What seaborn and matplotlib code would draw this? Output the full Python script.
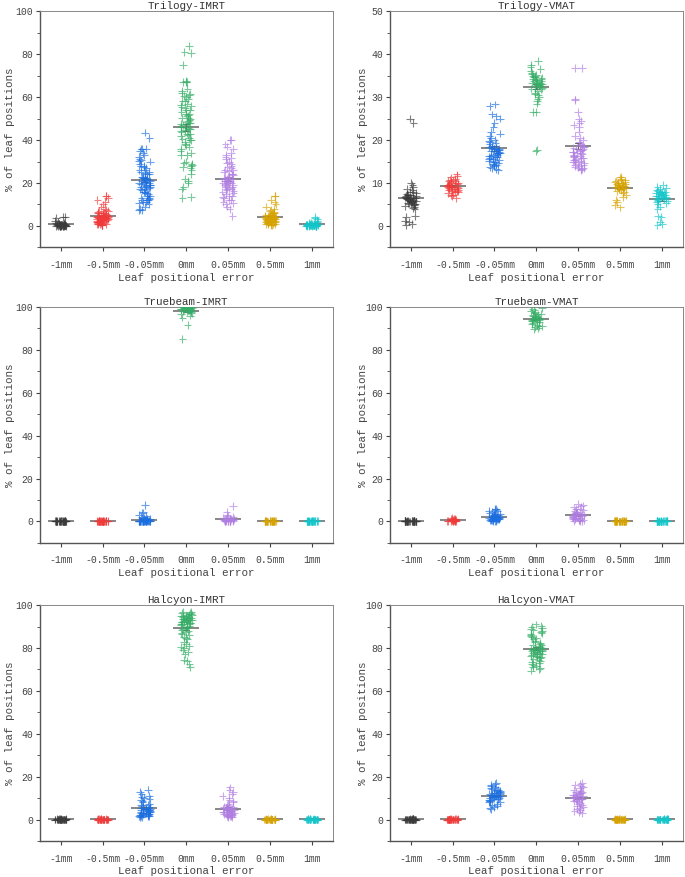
import numpy as np
import pandas as pd
import seaborn as sns
import matplotlib.pyplot as plt
from matplotlib.ticker import MultipleLocator

# categories and colours
errors = ["-1mm", "-0.5mm", "-0.05mm", "0mm", "0.05mm", "0.5mm", "1mm"]
colors = ["#3a3a3a", "#f03a3a", "#1a6ee0", "#35ad66", "#b07ee2", "#d6a200", "#12c6ca"]

zeros = [0, 0, 0.1, 0, 0.2, 0, 0.1, 0, 0, 0.1, 0.2, 0, 0.1, 0, 0, 0.1, 0, 0, 0.2, 0.1,
         0, 0.1, 0, 0.2, 0, 0.1, 0, 0, 0.1, 0.2]

# % of leaf positions, one list per positional error
trilogy_imrt = [
    [0, 0, 0, 0, 0.1, 0.2, 0.3, 0.5, 0.2, 0.4, 0.6, 0.8, 1.0, 1.2, 0.1, 0, 0.3, 0.5, 0.7, 0.9,
     1.5, 2.0, 0.2, 0.1, 0, 0.4, 0.6, 0.3, 4.2, 4.0, 3.8, 2.5, 0, 0.1, 0.2, 0.3, 0.5, 0.8, 1.1, 0.2,
     0, 0.1, 0, 0.2, 0.1, 0, 0.3],
    [0.5, 1, 1.5, 2, 2.5, 3, 3.5, 4, 4.5, 5, 5.5, 6, 6.5, 7, 7.5, 8, 9, 10, 11, 12, 14, 14, 13,
     3, 4, 2, 1, 0.2, 3.8, 4.2, 4.8, 5.2, 2.8, 3.2, 1.8, 2.2, 6.2, 5.8, 0.8, 4.4, 3.6, 2.6, 4, 5,
     3, 2, 1, 6, 7, 0.3, 3.4, 2.4, 1.4, 4.6, 1.2, 2.1, 3.1, 4.1, 0.9, 2.9, 3.9, 1.6, 4.3, 5.1],
    [7.5, 7.5, 8, 9, 10, 11, 12, 12.5, 13, 14, 15, 15.5, 16, 17, 17.5, 18, 18.5, 19, 19.5, 20,
     20.5, 21, 21.5, 22, 22.5, 23, 24, 25, 26, 27, 28, 29, 30, 30.5, 31, 32, 33, 34, 35, 36, 36,
     36, 41, 43.5, 12, 14, 16, 18, 20, 22, 24, 26, 28, 19, 21, 23, 25, 13, 11, 17, 15.2, 18.2,
     20.2, 22.2, 24.5, 10.5, 16.5, 19.2, 21.2, 27.5, 30.2, 12.2],
    [13, 13.5, 17, 18, 20, 21, 22, 24, 26, 27, 28, 28.5, 29, 30, 33, 33, 34, 36, 37, 38, 40,
     40.5, 41, 42, 43, 44, 44.5, 45, 45.5, 46, 47, 47.5, 48, 49, 50, 50.5, 51, 52, 53, 54, 55,
     55.5, 56, 57, 58, 59, 60, 60.5, 61, 62, 63, 64, 67, 67, 67.5, 75, 80.5, 81, 84, 45, 43, 46,
     48, 39, 35, 44.2, 46.2, 48.2, 50.2, 52.2, 54.2, 56.2, 58.2, 42.2, 40.2, 37.5, 29.5, 27.5,
     61.5, 67.2, 51.5, 49.5],
    [4.5, 8, 9, 10, 11, 12, 13, 14, 15, 16, 16.5, 17, 18, 18.5, 19, 19.5, 20, 20.5, 21, 21.5,
     22, 22.5, 23, 24, 25, 26, 27, 28, 29, 30, 31, 32, 33, 34, 36, 37, 38, 40, 40, 22, 20, 18,
     24, 26, 14, 12, 19, 21, 23, 17, 13.5, 15.5, 17.5, 19.8, 21.8, 23.8, 25.5, 27.5, 29.5, 31.5,
     10.5, 20.8, 22.8, 16.2],
    [0.3, 0.8, 1.2, 1.8, 2.2, 2.8, 3.2, 3.6, 4, 4.4, 4.8, 5.2, 5.6, 6, 6.5, 7, 7.5, 8, 9, 10,
     11, 12, 14, 14, 3, 4, 5, 2, 1, 3.5, 4.5, 2.5, 6.2, 0.5, 3.8, 4.2, 2, 5, 1.5, 4, 3.3, 2.3,
     1, 1.5, 2, 2.5, 3, 3.5, 0.8, 1.8, 2.7, 3.1, 4.1, 4.9, 0.6, 2.1],
    [0, 0.1, 0.2, 0.3, 0.4, 0.5, 0.6, 0.8, 1.0, 1.2, 1.5, 2, 2.5, 3, 3.5, 4, 0, 0.2, 0.4, 0.1,
     0.3, 0.6, 0.9, 0, 0.2, 1.1, 0.5, 0.7, 0.1, 0.3, 0, 0.1, 0.2, 0, 0.1, 0.3, 0, 0.2, 0.4, 0.1,
     0, 0.2],
]

trilogy_vmat = [
    [0.2, 0.5, 1, 1.2, 2, 2.2, 4, 4.2, 4.5, 5, 5.2, 5.5, 5.8, 6, 6, 6.2, 6.4, 6.6, 6.8, 7, 7.2,
     7.5, 7.8, 8, 8.3, 8.6, 9, 9.5, 10, 5.6, 6.5, 7.3, 5.3, 6.9, 7.7, 24, 25, 4.8, 6.1, 6.7,
     5.4, 5.9, 6.3, 5.1, 6.4, 5.7, 4.6, 6.2],
    [6.5, 7, 7.3, 7.6, 8, 8.2, 8.4, 8.6, 8.8, 9, 9, 9.2, 9.4, 9.6, 9.8, 10, 10.2, 10.5, 10.8,
     11, 11.3, 11.6, 12, 8.5, 9.3, 9.7, 8.9, 7.8, 10.4, 9.1, 8.1, 10.1, 8.3, 9.5, 7.1, 10.7,
     9.9, 8.7],
    [13, 13.3, 13.7, 14, 14.3, 14.7, 15, 15.3, 15.7, 16, 16.3, 16.6, 17, 17, 17.3, 17.6, 18, 18,
     18.3, 18.6, 19, 19.3, 19.6, 20, 20.5, 21, 21.5, 22, 23, 24, 25, 25.5, 26, 28, 28.3, 16.8,
     17.4, 18.2, 15.5, 14.5, 19.8, 16.1, 13.5, 14.1, 15.1, 16.2, 16.9, 17.1, 17.7, 18.1, 15.9,
     14.9, 16.5, 17.9],
    [17.5, 17.8, 26.5, 26.5, 28.5, 29, 29.5, 30, 30.5, 31, 31.5, 32, 32.3, 32.6, 33, 33, 33.3,
     33.6, 34, 34.3, 34.6, 35, 35.3, 35.6, 36, 36.5, 37, 37.5, 38.5, 33.8, 32.8, 31.8, 34.8, 30.8,
     32.5, 33.2, 33.7, 34.2, 34.5, 33.4, 32.9, 35.2, 33.9, 32.2, 34.9, 33.1],
    [13, 13.3, 13.6, 14, 14.3, 14.6, 15, 15.3, 15.6, 16, 16.3, 16.6, 17, 17.3, 17.6, 18, 18.3,
     18.6, 19, 19.5, 20, 20.5, 21, 22, 23, 23.5, 24, 24.5, 25, 26.5, 29.3, 29.5, 36.8, 36.8,
     15.8, 16.8, 17.8, 14.8, 13.5, 14.2, 15.2, 16.2, 17.2, 18.2, 13.8, 14.9, 15.9, 16.9, 17.9,
     18.9, 13.2, 14.4, 16.4, 17.5, 18.5, 15.4],
    [4.3, 4.8, 5.5, 6, 6.8, 7.2, 7.6, 8, 8.2, 8.4, 8.6, 8.8, 9, 9.2, 9.4, 9.6, 9.8, 10, 10.2,
     10.4, 10.6, 10.8, 11, 11.3, 11.5, 9.1, 8.9, 9.3, 8.7, 10.1, 9.5, 9.7, 10.3, 9.9, 8.9, 9.4],
    [0.2, 0.5, 1, 2, 2.2, 4, 4.5, 5, 5.3, 5.6, 5.9, 6.2, 6.5, 6.8, 7, 7.2, 7.5, 7.8, 8, 8.3,
     8.6, 9, 9.5, 6, 6.4, 7.3, 5.8, 6.9, 7.6, 8.8, 6.6, 7.1, 7.4, 6.3, 6.7, 7.9, 8.1, 7.7],
]

truebeam_imrt = [
    zeros,
    zeros,
    [0, 0, 0.1, 0.2, 0.3, 0.5, 0.1, 0, 0.2, 0.4, 0.6, 0.8, 1, 1.2, 1.5, 2, 2.5, 3, 4, 4.2, 7.8,
     0, 0.1, 0.3, 0.2, 0.5, 0.7, 0, 0.1, 0.4, 0, 0.1, 0, 0.2, 0.1, 0, 0.3, 0.1, 0, 0.2],
    [85, 91.5, 95, 96, 96.5, 97, 97.5, 98, 98, 98.5, 98.5, 99, 99, 99, 99.3, 99.5, 99.5, 99.7,
     100, 100, 99.8, 99.6, 98.8, 99.2, 97.8, 99.9, 100, 99.4, 98.6, 99.1, 99.5, 99.8, 100, 99.2,
     98.9, 99.6],
    [0, 0.1, 0.2, 0.3, 0.5, 0.7, 1, 1.2, 1.5, 2, 2.5, 3, 4.5, 7.2, 0, 0.2, 0.4, 0.6, 0.8, 1.1,
     0.3, 0.1, 0.5, 1.4, 0.9, 0, 0.2, 0.7],
    zeros,
    zeros,
]

truebeam_vmat = [
    zeros,
    [0, 0.2, 0.4, 0.6, 0.8, 1, 1.2, 1.5, 0.1, 0.3, 0.5, 0.7, 0.9, 0, 0.2, 0.4, 1.1, 0.6, 0.3, 0],
    [0, 0.2, 0.5, 0.8, 1, 1.2, 1.5, 1.8, 2, 2.2, 2.5, 2.8, 3, 3.3, 3.6, 4, 4.5, 5, 5.5, 6, 0.3,
     0.7, 1.1, 1.6, 2.1, 2.6, 3.1, 1.4, 0.9, 2.4, 4.8, 5.8, 0.4, 1.3, 0.6, 1.9],
    [89.5, 90, 90.5, 91, 91.5, 92, 92.5, 93, 93.5, 94, 94, 94.5, 94.5, 95, 95, 95.5, 96, 96.5,
     97, 97.5, 98, 98.5, 99, 99.5, 92.8, 93.8, 95.8, 96.8, 94.2, 91.2, 93.3, 94.8, 95.3, 96.2],
    [0, 0.3, 0.6, 1, 1.3, 1.6, 2, 2.3, 2.6, 3, 3.3, 3.6, 4, 4.5, 5, 5.5, 6, 6.5, 7, 7.5, 8, 0.5,
     1.5, 2.5, 0.8, 1.8, 2.8, 3.8, 0.2, 1.1, 3.1, 2.1, 4.2, 5.8],
    zeros,
    zeros,
]

halcyon_imrt = [
    zeros,
    zeros,
    [1, 1.3, 1.6, 2, 2.3, 2.6, 3, 3.3, 3.6, 4, 4.3, 4.6, 5, 5.3, 5.6, 6, 6.5, 7, 7.5, 8, 8.5, 9,
     9.5, 10, 10.5, 11, 12, 13, 14, 2.8, 3.8, 4.8, 1.8, 2.2, 3.2, 6.8, 4.2, 5.2, 1.5, 2.4, 3.4,
     4.4, 1.7, 2.7, 3.7, 4.7, 5.1, 3.1],
    [71, 72.5, 74, 74.5, 77, 78, 79, 80, 80.5, 81, 82, 83, 84, 84.5, 85, 86, 86.5, 87, 87.5, 88,
     88.5, 89, 89.5, 90, 90.5, 91, 91.5, 92, 92, 92.5, 93, 93, 93.5, 94, 94, 94.5, 95, 95, 95.5,
     96, 96.5, 97, 91, 92, 93, 90, 92.2, 93.2, 94.2, 95.2, 96.2, 91.2, 92.7, 93.7, 94.7, 95.7,
     90.7, 91.7, 96.7, 93.4, 94.4],
    [1, 1.5, 2, 2.3, 2.6, 3, 3.3, 3.6, 4, 4.3, 4.6, 5, 5.3, 5.6, 6, 6.5, 7, 7.5, 8, 8.5, 9, 10,
     11, 12, 13, 14, 15, 2, 2.8, 3.4, 4.8, 1.2, 1.8, 3.9, 5.4, 2.5, 1.6, 2.2, 3.2, 4.2, 5.2, 2.7,
     3.7, 4.4, 1.4, 5.8],
    zeros,
    zeros,
]

halcyon_vmat = [
    zeros,
    zeros,
    [5, 5.5, 6, 6.5, 7, 7.5, 8, 8.5, 9, 9.5, 10, 10.5, 11, 11, 11.5, 12, 12.5, 13, 13.5, 14,
     14.5, 15, 15.5, 16, 16.5, 17, 10.2, 11.2, 12.2, 9.2, 13.2, 8.2, 14.2, 10.8, 11.8, 12.8,
     9.8, 10.6, 11.4, 12.6, 8.8, 13.6],
    [69.5, 70, 70.5, 71, 71.5, 72, 72.5, 73, 73.5, 74, 74.5, 75, 75.5, 76, 76.5, 77, 77.5, 78,
     78.5, 79, 79, 79.5, 80, 80.5, 81, 81.5, 82, 82.5, 83, 83.5, 84, 84.5, 85, 85.5, 86, 86.5,
     87, 87.5, 88, 88.5, 89, 89.5, 90, 90.5, 91, 78.2, 77.2, 76.2, 80.2, 81.2, 77, 77.8, 78.8,
     79.2, 78.4, 76.8, 79.6, 75.8],
    [3, 3.5, 4, 4.5, 5, 5.5, 6, 6.5, 7, 7.5, 8, 8.5, 9, 9.5, 10, 10.5, 11, 11, 11.5, 12, 12.5,
     13, 13.5, 14, 14.5, 15, 15.5, 16, 16.5, 17, 10.2, 9.8, 11.4, 8.8, 12.4, 9.4, 10.8, 11.8,
     7.8, 12.9],
    zeros,
    zeros,
]

panels = [
    ("Trilogy-IMRT", trilogy_imrt, (-10, 100), 20),
    ("Trilogy-VMAT", trilogy_vmat, (-5, 50), 10),
    ("Truebeam-IMRT", truebeam_imrt, (-10, 100), 20),
    ("Truebeam-VMAT", truebeam_vmat, (-10, 100), 20),
    ("Halcyon-IMRT", halcyon_imrt, (-10, 100), 20),
    ("Halcyon-VMAT", halcyon_vmat, (-10, 100), 20),
]

sns.set_style("ticks")
plt.rcParams['font.family'] = ['Liberation Mono', 'DejaVu Sans']
plt.rcParams['axes.edgecolor'] = '#555555'
plt.rcParams['text.color'] = '#333333'
plt.rcParams['axes.labelcolor'] = '#444444'
plt.rcParams['xtick.color'] = '#444444'
plt.rcParams['ytick.color'] = '#444444'

fig = plt.figure(figsize=(6.85, 8.77), dpi=100)
lefts = [0.058, 0.569]
bottoms = [0.718, 0.381, 0.041]
label_x = [-0.085, -0.075]

for i, (title, values, ylim, step) in enumerate(panels):
    ax = fig.add_axes([lefts[i % 2], bottoms[i // 2], 0.428, 0.269])
    df = pd.DataFrame({
        "error": [e for e, v in zip(errors, values) for _ in v],
        "pct": [x for v in values for x in v],
    })
    sns.stripplot(data=df, x="error", y="pct", hue="error", order=errors, hue_order=errors,
                  palette=colors, marker="+", jitter=0.14, size=5.5, linewidth=0.8,
                  alpha=0.65, legend=False, ax=ax)
    sns.boxplot(data=df, x="error", y="pct", order=errors, width=0.62, showmeans=True,
                meanline=True, showbox=False, showcaps=False, showfliers=False,
                whiskerprops={"visible": False}, medianprops={"visible": False},
                meanprops={"color": "#666666", "linestyle": "-", "linewidth": 1.1}, ax=ax)
    sns.pointplot(data=df, x="error", y="pct", order=errors, errorbar="se", markers="",
                  linestyle="none", capsize=0.15, color="#666666", err_kws={"linewidth": 0.8},
                  ax=ax)
    ax.set_xlim(-0.5, 6.5)
    ax.set_ylim(*ylim)
    ax.yaxis.set_major_locator(MultipleLocator(step))
    ax.yaxis.set_minor_locator(MultipleLocator(step / 2))
    ax.tick_params(axis="both", labelsize=7, length=3, width=0.8, pad=2)
    ax.tick_params(axis="x", pad=6)
    ax.tick_params(axis="y", which="minor", length=2, width=0.6)
    ax.set_title(title, fontsize=7.8, pad=1)
    ax.set_xlabel("Leaf positional error", fontsize=7.8, labelpad=2)
    ax.set_ylabel("% of leaf positions", fontsize=7.8)
    ax.yaxis.set_label_coords(label_x[i % 2], 0.5)
    for side in ["top", "right"]:
        ax.spines[side].set_linewidth(0.7)
        ax.spines[side].set_color("#888888")
    for side in ["left", "bottom"]:
        ax.spines[side].set_linewidth(1.0)

fig.savefig("out.png", dpi=100)
